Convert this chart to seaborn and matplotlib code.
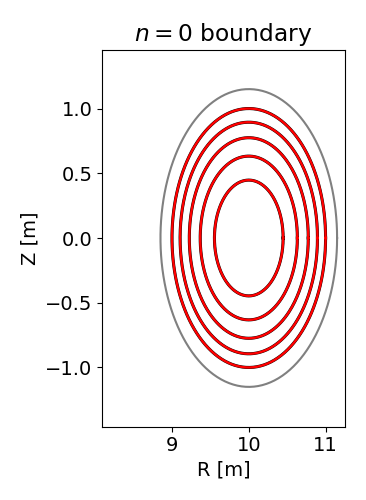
import numpy as np
import pandas as pd
import seaborn as sns
from matplotlib import pyplot as plt

# flux surface levels (normalised psi) and geometry
psi_levels = [0.2, 0.4, 0.6, 0.8, 1.0]
R0 = 10.0
Z0 = 0.0
a_minor = 1.0
outer_radius = 1.15

theta = np.linspace(0, 2 * np.pi, 400)

rows = []
for i, psi in enumerate(psi_levels):
    r = a_minor * np.sqrt(psi)
    for t in theta:
        rows.append({'surface': i, 'R': R0 + r * np.cos(t), 'Z': Z0 + r * np.sin(t)})
surfaces = pd.DataFrame(rows)

wall = pd.DataFrame({'R': R0 + outer_radius * np.cos(theta),
                     'Z': Z0 + outer_radius * np.sin(theta)})

plt.rcParams['font.size'] = 14

fig = plt.figure(figsize=(3.66, 5.0), dpi=100)
ax = fig.add_axes([0.279, 0.147, 0.663, 0.754])

# outer boundary
sns.lineplot(data=wall, x='R', y='Z', sort=False, estimator=None,
             color='grey', linewidth=1.5, ax=ax)

# contours (black) with the fitted surfaces on top (red)
sns.lineplot(data=surfaces, x='R', y='Z', units='surface', sort=False,
             estimator=None, color='black', linewidth=2.2, ax=ax)
sns.lineplot(data=surfaces, x='R', y='Z', units='surface', sort=False,
             estimator=None, color='red', linewidth=1.7, ax=ax)

ax.set_xlim(8.09, 11.25)
ax.set_ylim(-1.456, 1.456)
ax.set_xticks([9, 10, 11])
ax.set_yticks([-1.0, -0.5, 0.0, 0.5, 1.0])
ax.set_xlabel('R [m]')
ax.set_ylabel('Z [m]')
ax.set_title('$n=0$ boundary')

fig.savefig('out.png', dpi=100)
